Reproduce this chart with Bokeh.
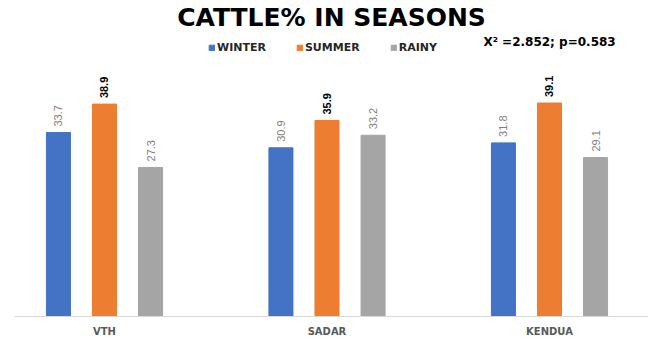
import math
from bokeh.plotting import figure
from bokeh.models import (ColumnDataSource, Range1d, FixedTicker, Legend, LegendItem, Label)
from bokeh.transform import dodge
from bokeh.core.properties import value
from bokeh.embed import file_html
from bokeh.resources import INLINE

# ---- data ----
categories = ["VTH", "SADAR", "KENDUA"]
winter = [33.7, 30.9, 31.8]
summer = [38.9, 35.9, 39.1]
rainy = [27.3, 33.2, 29.1]
series_names = ["WINTER", "SUMMER", "RAINY"]
stat_text = "X\u00b2 =2.852; p=0.583"
title_text = "CATTLE% IN SEASONS"

colors = ["#4472C4", "#ED7D31", "#A5A5A5"]

xs = list(range(len(categories)))
source = ColumnDataSource(dict(
    x=xs,
    winter=winter, summer=summer, rainy=rainy,
    winter_lbl=[f"{v:.1f}" for v in winter],
    summer_lbl=[f"{v:.1f}" for v in summer],
    rainy_lbl=[f"{v:.1f}" for v in rainy],
))

Y_END = 52.2
p = figure(width=648, height=339, x_range=Range1d(-0.4045, 2.445), y_range=Range1d(0, Y_END),
           min_border_left=14, min_border_right=0, min_border_top=10, min_border_bottom=0,
           toolbar_location=None, output_backend="svg")

p.title.text = title_text
p.title.align = "center"
p.title.text_font = "DejaVu Sans"
p.title.text_font_style = "bold"
p.title.text_font_size = "25px"
p.title.text_color = "black"
p.title.standoff = 0
p.title.offset = 0

p.outline_line_color = None
p.xgrid.visible = False
p.ygrid.visible = False
p.yaxis.visible = False

xa = p.xaxis[0]
xa.ticker = FixedTicker(ticks=xs)
xa.major_label_overrides = {i: c for i, c in zip(xs, categories)}
xa.axis_line_color = "#d9d9d9"
xa.major_tick_line_color = None
xa.minor_tick_line_color = None
xa.major_tick_out = 0
xa.major_tick_in = 0
xa.minor_tick_out = 0
xa.minor_tick_in = 0
xa.major_label_text_font = "DejaVu Sans"
xa.major_label_text_font_style = "bold"
xa.major_label_text_font_size = "10px"
xa.major_label_text_color = "#595959"
xa.major_label_standoff = 9

offsets = [-0.207, 0.0, 0.207]
cols = ["winter", "summer", "rainy"]
renderers = []
for off, col, c in zip(offsets, cols, colors):
    r = p.vbar(x=dodge("x", off), top=col, width=0.108, source=source,
               fill_color=c, line_color=c)
    renderers.append(r)
    is_summer = col == "summer"
    p.text(x=dodge("x", off), y=col, text=col + "_lbl", source=source,
           angle=math.pi / 2, text_align="left", text_baseline="middle", y_offset=-6,
           text_font=value("Liberation Sans"), text_font_size="11px",
           text_font_style="bold" if is_summer else "normal",
           text_color="black" if is_summer else "#7f7f7f")

legend = Legend(items=[LegendItem(label=n, renderers=[r]) for n, r in zip(series_names, renderers)],
                orientation="horizontal", location=(194, 262),
                glyph_width=7, glyph_height=7, label_standoff=2, spacing=30, padding=0, margin=0,
                border_line_color=None, background_fill_alpha=0,
                label_text_font="DejaVu Sans", label_text_font_style="bold",
                label_text_font_size="11px", label_text_color="#262626")
p.add_layout(legend, "center")

p.add_layout(Label(x=1.703, y=50.3, text=stat_text, text_baseline="middle",
                   text_font="DejaVu Sans", text_font_style="bold", text_font_size="12px",
                   text_color="black"))

open("out.html", "w").write(file_html(p, INLINE))
